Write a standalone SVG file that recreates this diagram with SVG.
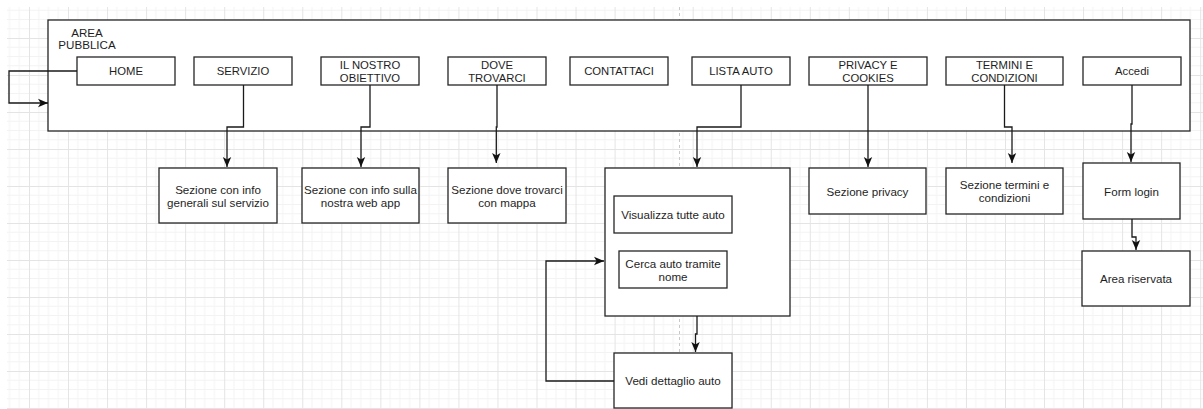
<svg xmlns="http://www.w3.org/2000/svg" width="1203" height="409" viewBox="0 0 1203 409">
  <style>
    .box { fill: #ffffff; stroke: #262626; stroke-width: 1.3; }
    .edge { fill: none; stroke: #1a1a1a; stroke-width: 1.3; }
    .lbl { font-family: "Liberation Sans", Arial, sans-serif; font-size: 11.6px; fill: #1e1e1e; text-anchor: middle; }
    .nav { font-size: 11.3px; }
  </style>
  <defs>
    <pattern id="grid" patternUnits="userSpaceOnUse" x="29" y="1" width="39.04" height="37">
      <g stroke="#f3f3f3" stroke-width="1">
        <line x1="9.76" y1="0" x2="9.76" y2="37"/>
        <line x1="19.52" y1="0" x2="19.52" y2="37"/>
        <line x1="29.28" y1="0" x2="29.28" y2="37"/>
        <line x1="0" y1="9.25" x2="39.04" y2="9.25"/>
        <line x1="0" y1="18.5" x2="39.04" y2="18.5"/>
        <line x1="0" y1="27.75" x2="39.04" y2="27.75"/>
      </g>
      <g stroke="#e4e4e4" stroke-width="1">
        <line x1="0.5" y1="0" x2="0.5" y2="37"/>
        <line x1="0" y1="0.5" x2="39.04" y2="0.5"/>
      </g>
    </pattern>
    <marker id="arrow" markerUnits="userSpaceOnUse" markerWidth="10" markerHeight="10" viewBox="0 0 10 10" refX="10" refY="5" orient="auto">
      <path d="M0,0.8 L10,5 L0,9.2 L2.6,5 Z" fill="#111111"/>
    </marker>
  </defs>

  <!-- canvas -->
  <rect x="0" y="0" width="1203" height="409" fill="#ffffff"/>
  <rect x="7" y="7" width="1196" height="402" fill="url(#grid)"/>
  <line x1="679.5" y1="7" x2="679.5" y2="409" stroke="#c8c8c8" stroke-width="1" stroke-dasharray="3 3"/>

  <!-- public area container -->
  <g id="area-pubblica">
    <rect class="box" x="48" y="20" width="1142" height="111"/>
    <text class="lbl" font-size="11.7" x="87" y="36.5">AREA</text>
    <text class="lbl" font-size="11.7" x="87" y="49">PUBBLICA</text>
  </g>

  <!-- navigation menu -->
  <g id="home">
    <rect class="box" x="77" y="57" width="98" height="28"/>
    <text class="lbl nav" x="126" y="75">HOME</text>
  </g>
  <g id="servizio">
    <rect class="box" x="194" y="57" width="98" height="28"/>
    <text class="lbl nav" x="243" y="75">SERVIZIO</text>
  </g>
  <g id="il-nostro-obiettivo">
    <rect class="box" x="321" y="57" width="98" height="28"/>
    <text class="lbl nav" x="370" y="68.5">IL NOSTRO</text>
    <text class="lbl nav" x="370" y="81.5">OBIETTIVO</text>
  </g>
  <g id="dove-trovarci">
    <rect class="box" x="448" y="57" width="98" height="28"/>
    <text class="lbl nav" x="497" y="68.5">DOVE</text>
    <text class="lbl nav" x="497" y="81.5">TROVARCI</text>
  </g>
  <g id="contattaci">
    <rect class="box" x="570" y="57" width="98" height="28"/>
    <text class="lbl nav" x="619" y="75">CONTATTACI</text>
  </g>
  <g id="lista-auto">
    <rect class="box" x="692" y="57" width="98" height="28"/>
    <text class="lbl nav" x="741" y="75">LISTA AUTO</text>
  </g>
  <g id="privacy-cookies">
    <rect class="box" x="809" y="57" width="118" height="28"/>
    <text class="lbl nav" x="868" y="68.5">PRIVACY E</text>
    <text class="lbl nav" x="868" y="81.5">COOKIES</text>
  </g>
  <g id="termini-condizioni">
    <rect class="box" x="946" y="57" width="117" height="28"/>
    <text class="lbl nav" x="1004.5" y="68.5">TERMINI E</text>
    <text class="lbl nav" x="1004.5" y="81.5">CONDIZIONI</text>
  </g>
  <g id="accedi">
    <rect class="box" x="1083" y="57" width="98" height="28"/>
    <text class="lbl nav" x="1132" y="75">Accedi</text>
  </g>

  <!-- page sections -->
  <g id="sezione-servizio">
    <rect class="box" x="159" y="168" width="118" height="55"/>
    <text class="lbl" x="218" y="194">Sezione con info</text>
    <text class="lbl" x="218" y="207">generali sul servizio</text>
  </g>
  <g id="sezione-obiettivo">
    <rect class="box" x="302" y="168" width="117" height="55"/>
    <text class="lbl" x="360.5" y="194">Sezione con info sulla</text>
    <text class="lbl" x="360.5" y="207">nostra web app</text>
  </g>
  <g id="sezione-dove">
    <rect class="box" x="448" y="168" width="118" height="55"/>
    <text class="lbl" x="507" y="194">Sezione dove trovarci</text>
    <text class="lbl" x="507" y="207">con mappa</text>
  </g>
  <g id="sezione-auto">
    <rect class="box" x="605" y="168" width="185" height="148"/>
  </g>
  <g id="visualizza-auto">
    <rect class="box" x="614" y="196" width="118" height="37"/>
    <text class="lbl" x="673" y="219">Visualizza tutte auto</text>
  </g>
  <g id="cerca-auto">
    <rect class="box" x="619" y="251" width="108" height="37"/>
    <text class="lbl" x="673" y="268">Cerca auto tramite</text>
    <text class="lbl" x="673" y="281">nome</text>
  </g>
  <g id="dettaglio-auto">
    <rect class="box" x="614" y="353" width="118" height="55"/>
    <text class="lbl" x="673" y="385">Vedi dettaglio auto</text>
  </g>
  <g id="sezione-privacy">
    <rect class="box" x="809" y="168" width="117" height="46"/>
    <text class="lbl" x="867.5" y="196">Sezione privacy</text>
  </g>
  <g id="sezione-termini">
    <rect class="box" x="946" y="168" width="117" height="46"/>
    <text class="lbl" x="1004.5" y="189">Sezione termini e</text>
    <text class="lbl" x="1004.5" y="202">condizioni</text>
  </g>
  <g id="form-login">
    <rect class="box" x="1083" y="163" width="97" height="56"/>
    <text class="lbl" x="1131.5" y="196">Form login</text>
  </g>
  <g id="area-riservata">
    <rect class="box" x="1082" y="251" width="108" height="55"/>
    <text class="lbl" x="1136" y="283">Area riservata</text>
  </g>

  <!-- connectors -->
  <g id="connectors">
    <path class="edge" marker-end="url(#arrow)" d="M77,71 H9 V103 H48"/>
    <path class="edge" marker-end="url(#arrow)" d="M243.5,85 V127 H227 V167"/>
    <path class="edge" marker-end="url(#arrow)" d="M370,85 V127 H361 V167"/>
    <path class="edge" marker-end="url(#arrow)" d="M497,85 V127 H496.3 V163"/>
    <path class="edge" marker-end="url(#arrow)" d="M741,85 V127 H697 V167"/>
    <path class="edge" marker-end="url(#arrow)" d="M868,85 V167"/>
    <path class="edge" marker-end="url(#arrow)" d="M1004.5,85 V127 H1012 V163"/>
    <path class="edge" marker-end="url(#arrow)" d="M1132,85 V124 H1131 V162"/>
    <path class="edge" marker-end="url(#arrow)" d="M697,316 V334 H695.5 V352"/>
    <path class="edge" marker-end="url(#arrow)" d="M614,381 H546 V261 H604"/>
    <path class="edge" marker-end="url(#arrow)" d="M1132,219 V237 H1136 V250"/>
  </g>
</svg>
